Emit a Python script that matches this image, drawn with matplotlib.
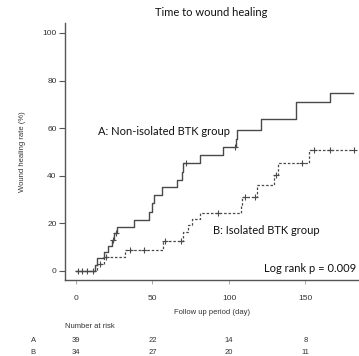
import numpy as np
import matplotlib
matplotlib.use("Agg")
import matplotlib.pyplot as plt
import matplotlib.transforms as mtransforms

# group A: non-isolated BTK (event times in days, cumulative healing rate %)
times_a = [0, 12.5, 14, 18, 21, 23.5, 25, 26.5, 38, 48, 50, 51, 56, 66, 69, 70,
           81, 96, 104.5, 105, 121, 143.5, 144, 166]
rate_a = [0, 2.6, 5.3, 7.9, 10.5, 13.2, 15.8, 18.6, 21.4, 24.9, 28.4, 31.9, 35.2,
          38.2, 41.7, 45.2, 48.7, 52.0, 55.6, 59.3, 63.7, 67.4, 71.1, 74.9]
end_a = 181
censor_a = [1, 4, 7, 11, 24, 26, 72, 104]

# group B: isolated BTK
times_b = [0, 14, 18, 32, 57, 70, 73, 76, 81, 108, 108.5, 118.5, 129.5, 132, 152]
rate_b = [0, 2.9, 5.9, 8.8, 12.6, 16.4, 19.4, 21.8, 24.2, 27.7, 31.2, 36.0, 40.3,
          45.2, 50.8]
end_b = 182
censor_b = [16, 19.5, 35.5, 44.5, 58.5, 68.5, 93, 110.5, 117, 130.5, 147.5,
            155.5, 166, 181.5]

risk_times = [0, 50, 100, 150]
risk_a = [39, 22, 14, 8]
risk_b = [34, 27, 20, 11]

line_col = "#4a4a4a"
txt_col = "#333333"


def step_value(times, rates, t):
    i = np.searchsorted(times, t, side="right") - 1
    return rates[i]


fig = plt.figure(figsize=(3.59, 3.56), dpi=100)
ax = fig.add_axes([0.181, 0.2135, 0.819, 0.722])

# A solid
ax.step(times_a + [end_a], rate_a + [rate_a[-1]], where="post",
        color=line_col, lw=1.0)
ax.plot(censor_a, [step_value(times_a, rate_a, t) for t in censor_a],
        ls="none", marker="+", ms=5, mew=0.8, color=line_col)

# B dashed
ax.step(times_b + [end_b], rate_b + [rate_b[-1]], where="post",
        color=line_col, lw=0.9, ls=(0, (2.0, 1.5)))
ax.plot(censor_b, [step_value(times_b, rate_b, t) for t in censor_b],
        ls="none", marker="+", ms=5, mew=0.8, color=line_col)

ax.set_xlim(-7.2, 185)
ax.set_ylim(-3.8, 104.2)
ax.set_yticks([0, 20, 40, 60, 80, 100])
ax.set_xticks(risk_times)
ax.spines["top"].set_visible(False)
ax.spines["right"].set_visible(False)
for s in ("left", "bottom"):
    ax.spines[s].set_color("#555555")
    ax.spines[s].set_linewidth(1.0)
ax.tick_params(axis="y", length=4, width=0.8, color="#555555", pad=2,
               labelsize=6, labelcolor=txt_col)
ax.tick_params(axis="x", length=3, width=0.6, color="#999999", pad=8,
               labelsize=6, labelcolor=txt_col)
for lab in ax.get_xticklabels() + ax.get_yticklabels():
    lab.set_family("Liberation Sans")

ax.set_xlabel("Follow up period (day)", fontsize=5.5, family="Liberation Sans",
              color=txt_col, labelpad=5)
ax.set_ylabel("Wound healing rate (%)", fontsize=5.5, family="Liberation Sans",
              color=txt_col, labelpad=12)

fig.text(0.588, 1 - 12 / 356, "Time to wound healing", ha="center", va="center",
         fontsize=8, family="Lato", color="#111111")

ax.text(14.4, 58.5, "A: Non-isolated BTK group", ha="left", va="center",
        fontsize=8, family="Lato", color="#111111")
ax.text(89.5, 16.9, "B: Isolated BTK group", ha="left", va="center",
        fontsize=8, family="Lato", color="#111111")
ax.text(183, 1.0, "Log rank p = 0.009", ha="right", va="center",
        fontsize=8, family="Lato", color="#111111")

# number at risk table
trans = mtransforms.blended_transform_factory(ax.transData, ax.transAxes)
ax.text(-7.5, -0.18, "Number at risk", transform=trans, ha="left", va="center",
        fontsize=5.5, family="Liberation Sans", color=txt_col, clip_on=False)
ax.text(-28, -0.237, "A", transform=trans, ha="center", va="center",
        fontsize=5.5, family="Liberation Sans", color=txt_col, clip_on=False)
ax.text(-28, -0.284, "B", transform=trans, ha="center", va="center",
        fontsize=5.5, family="Liberation Sans", color=txt_col, clip_on=False)
for t, na, nb in zip(risk_times, risk_a, risk_b):
    ax.text(t, -0.237, str(na), transform=trans, ha="center", va="center",
            fontsize=5.5, family="Liberation Sans", color=txt_col, clip_on=False)
    ax.text(t, -0.284, str(nb), transform=trans, ha="center", va="center",
            fontsize=5.5, family="Liberation Sans", color=txt_col, clip_on=False)

fig.savefig("out.png", dpi=100)
